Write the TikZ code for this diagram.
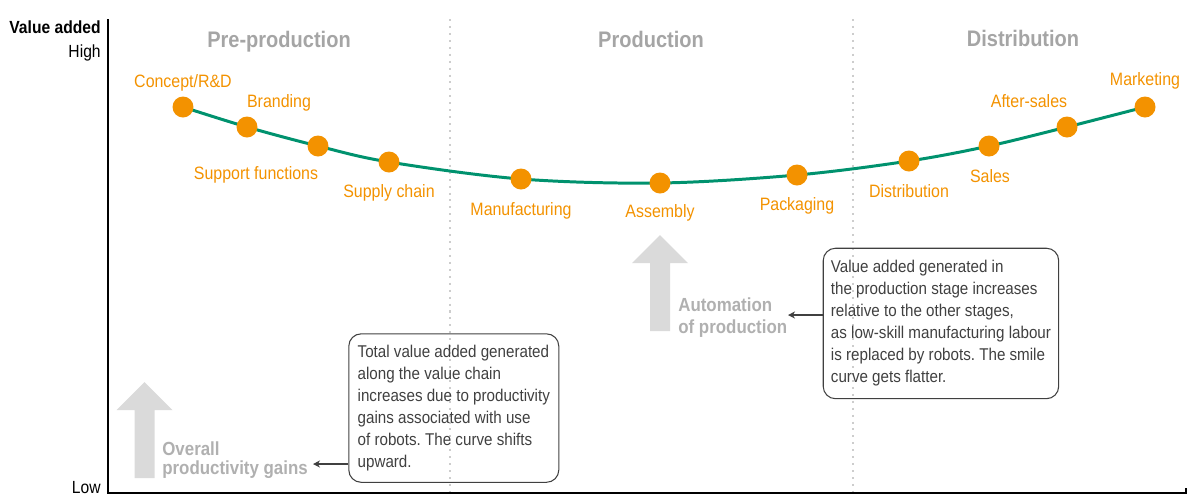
\documentclass[tikz,border=0pt]{standalone}
\usepackage{fontspec}
\setmainfont{Liberation Sans}[FakeStretch=0.89]
\usetikzlibrary{arrows.meta}
\frenchspacing
\definecolor{stageorange}{RGB}{243,146,0}
\definecolor{smilegreen}{RGB}{0,146,110}
\definecolor{phasegray}{RGB}{165,165,165}
\definecolor{sepgray}{RGB}{205,205,205}
\definecolor{liftgray}{RGB}{218,218,218}
\definecolor{lifttext}{RGB}{176,176,176}
\definecolor{notegray}{RGB}{64,64,64}

\begin{document}
\begin{tikzpicture}[x=0.02cm, y=-0.02cm,
		stagedot/.style={circle, fill=stageorange, inner sep=0pt, minimum size=0.42cm},
		stagelabel/.style={anchor=base, inner sep=0pt, text=stageorange, font=\fontsize{10.2}{12}\selectfont},
		phase/.style={anchor=base, inner sep=0pt, text=phasegray, font=\fontsize{12.8}{15}\selectfont\bfseries},
		axislabel/.style={anchor=base east, inner sep=0pt, font=\fontsize{10}{12}\selectfont},
		liftlabel/.style={anchor=north west, inner sep=0pt, align=left, text=lifttext, font=\fontsize{10.8}{12.8}\selectfont\bfseries},
		note/.style={draw=notegray, line width=0.6pt, rounded corners=7pt, anchor=north west, align=left,
			text=notegray, font=\fontsize{9.7}{12.5}\selectfont\frenchspacing},
		pointer/.style={draw=notegray, line width=0.7pt, -{Stealth[length=4pt, width=4pt]}},
		separator/.style={draw=sepgray, line width=1.15pt, dash pattern=on 1.15pt off 2.8pt}]
	\useasboundingbox (0,0) rectangle (1187,495);%
	%
	% axes
	\coordinate (ytop) at (108,19);%
	\coordinate (origin) at (108,493);%
	\coordinate (xend) at (1186,493);%
	\draw[line width=0.8pt] (ytop) -- (origin) -- (xend) -- ++(0,-5);%
	\node[axislabel, font=\fontsize{10}{12}\selectfont\bfseries] (valueadded) at (101,33) {Value added};%
	\node[axislabel] (high) at (101,57) {High};%
	\node[axislabel] (low) at (101,493) {Low};%
	%
	% stages
	\draw[separator] (450,19) -- (450,491);%
	\draw[separator] (853,19) -- (853,491);%
	\node[phase] (preprod) at (279,47) {Pre-production};%
	\node[phase] (prod) at (651,47) {Production};%
	\node[phase] (distr) at (1023,46) {Distribution};%
	%
	% smile curve
	\coordinate (c1) at (183,107);%
	\coordinate (c2) at (247,127);%
	\coordinate (c3) at (318,146);%
	\coordinate (c4) at (389,162);%
	\coordinate (c5) at (521,179);%
	\coordinate (c6) at (660,183);%
	\coordinate (c7) at (797,175);%
	\coordinate (c8) at (909,161);%
	\coordinate (c9) at (989,146);%
	\coordinate (c10) at (1067,127);%
	\coordinate (c11) at (1145,107);%
	\draw[smilegreen, line width=1.7pt] plot[smooth, tension=0.55] coordinates {(c1) (c2) (c3) (c4) (c5) (c6) (c7) (c8) (c9) (c10) (c11)};%
	\foreach \i in {1,...,11} {%
		\node[stagedot] (dot\i) at (c\i) {};%
	}%
	\node[stagelabel] (concept) at (183,87) {Concept/R\&D};%
	\node[stagelabel] (branding) at (279,107) {Branding};%
	\node[stagelabel] (support) at (256,179) {Support functions};%
	\node[stagelabel] (supply) at (389,197) {Supply chain};%
	\node[stagelabel] (manufacturing) at (521,215) {Manufacturing};%
	\node[stagelabel] (assembly) at (660,217) {Assembly};%
	\node[stagelabel] (packaging) at (797,210) {Packaging};%
	\node[stagelabel] (distribution) at (909,197) {Distribution};%
	\node[stagelabel] (sales) at (990,182) {Sales};%
	\node[stagelabel] (aftersales) at (1029,107) {After-sales};%
	\node[stagelabel] (marketing) at (1145,85) {Marketing};%
	%
	% upward shifts
	\foreach \ax/\ay in {650/331, 134.5/478} {%
		\fill[liftgray] (\ax,\ay) -- ++(0,-68) -- ++(-18,0) -- ++(28,-28) -- ++(28,28) -- ++(-18,0) -- ++(0,68) -- cycle;%
	}%
	\node[liftlabel] (automation) at (678,297) {Automation\\of production};%
	\node[liftlabel, font=\fontsize{10.8}{10.8}\selectfont\bfseries] (overall) at (162,441) {Overall\\productivity gains};%
	%
	% notes
	\node[note, minimum width=4.71cm, minimum height=3.01cm] (autonote) at (822.7,247.7) {Value added generated in\\the production stage increases\\relative to the other stages,\\as low-skill manufacturing labour\\is replaced by robots. The smile\\curve gets flatter.};%
	\node[note, minimum width=4.2cm, minimum height=2.97cm] (gainnote) at (348.3,333.3) {Total value added generated\\along the value chain\\increases due to productivity\\gains associated with use\\of robots. The curve shifts\\upward.};%
	\coordinate (autotip) at (788,315);%
	\coordinate (gaintip) at (313,464);%
	\draw[pointer] (autonote.west |- autotip) -- (autotip);%
	\draw[pointer] (gainnote.west |- gaintip) -- (gaintip);%
\end{tikzpicture}
\end{document}
